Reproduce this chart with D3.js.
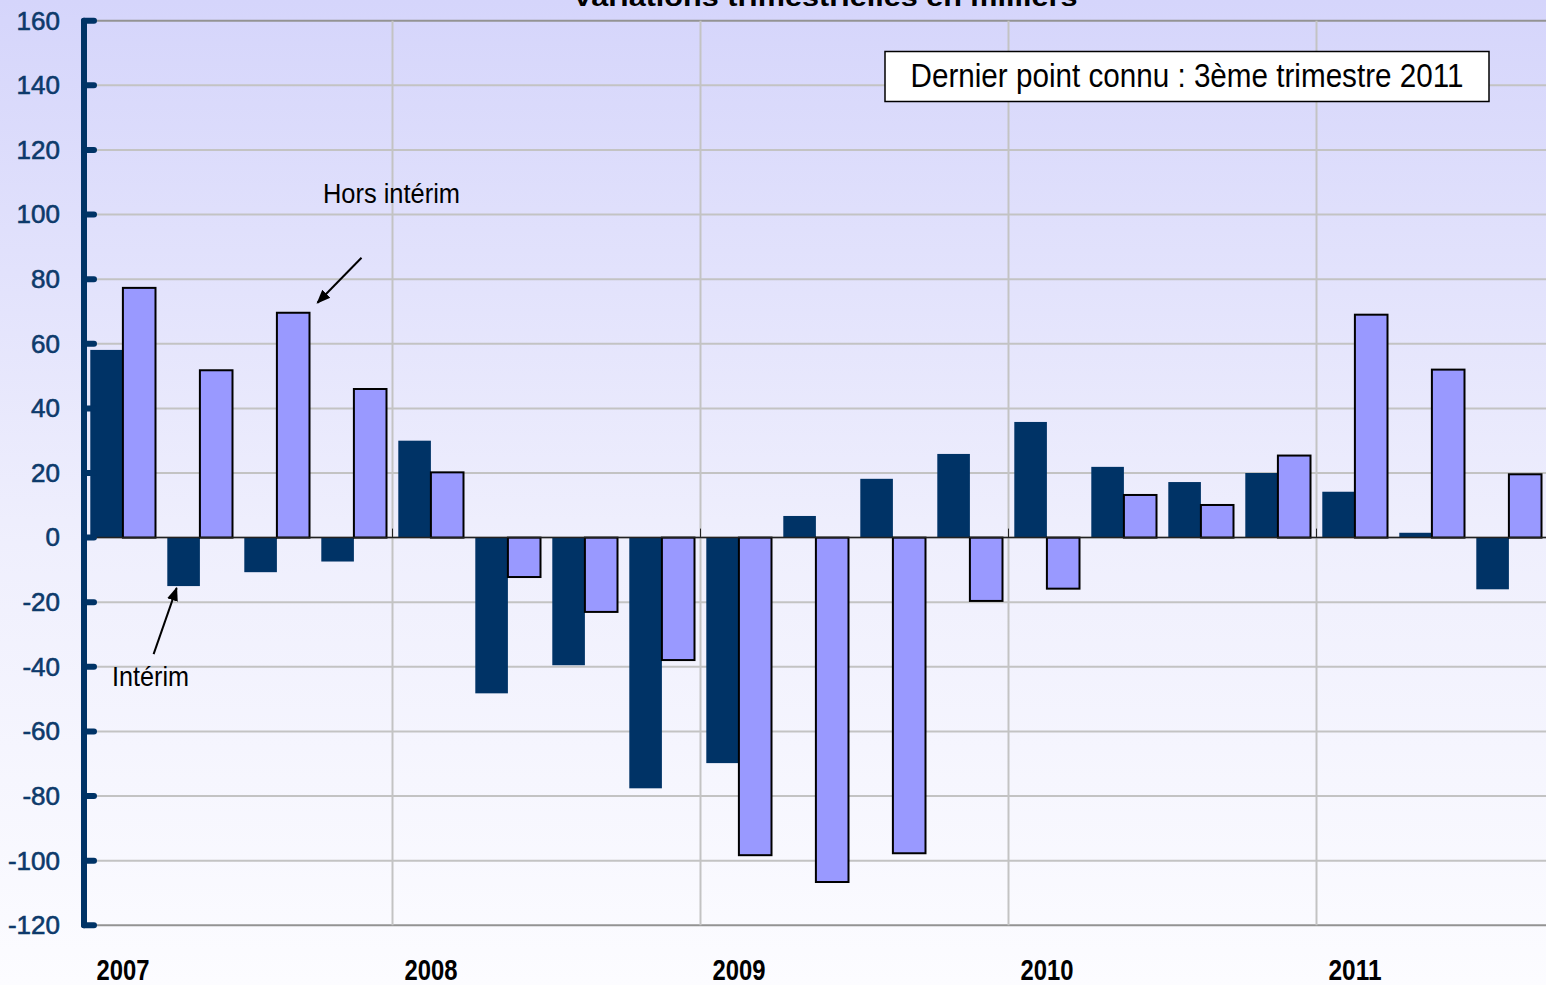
<!DOCTYPE html>
<html>
<head>
<meta charset="utf-8">
<script src="https://cdn.jsdelivr.net/npm/d3@7"></script>
<style>
    body { margin: 0; padding: 0; overflow: hidden; }
    svg { display: block; }
</style>
</head>
<body>
<div id="chart"></div>
<script>
// quarters shown on the chart, 2007 Q1 to 2011 Q3
const quarters = ["2007T1", "2007T2", "2007T3", "2007T4",
    "2008T1", "2008T2", "2008T3", "2008T4",
    "2009T1", "2009T2", "2009T3", "2009T4",
    "2010T1", "2010T2", "2010T3", "2010T4",
    "2011T1", "2011T2", "2011T3"];

// quarterly changes, thousands
const interim = [58.1, -15.0, -10.7, -7.4, 30.0, -48.2, -39.5, -77.6,
    -69.8, 6.7, 18.2, 25.9, 35.8, 21.9, 17.2, 20.0, 14.2, 1.5, -16.0];
const horsInterim = [77.3, 51.8, 69.6, 46.0, 20.2, -12.2, -23.0, -37.9,
    -98.3, -106.6, -97.7, -19.6, -15.8, 13.2, 10.1, 25.4, 69.0, 52.0, 19.6];

const years = ["2007", "2008", "2009", "2010", "2011"];
const yTicks = [-120, -100, -80, -60, -40, -20, 0, 20, 40, 60, 80, 100, 120, 140, 160];

const series = ["interim", "horsInterim"];

document.addEventListener("DOMContentLoaded", () => {
    drawChart();
});

let drawChart = () => {
    var width = 1546
    var height = 985
    var arial = "'Liberation Sans', Arial, sans-serif"

    var svg = d3.select("#chart")
        .append("svg")
        .attr("width", width)
        .attr("height", height)

    // background gradient
    var defs = svg.append("defs")
    var grad = defs.append("linearGradient")
        .attr("id", "bg")
        .attr("x1", 0).attr("y1", 0).attr("x2", 0).attr("y2", 1)
    grad.append("stop").attr("offset", "0%").attr("stop-color", "#d5d5fb")
    grad.append("stop").attr("offset", "55%").attr("stop-color", "#efeffd")
    grad.append("stop").attr("offset", "100%").attr("stop-color", "#fcfcff")

    svg.append("rect")
        .attr("width", width)
        .attr("height", height)
        .attr("fill", "url(#bg)")

    var rows = quarters.map((q, i) => ({ q: q, interim: interim[i], horsInterim: horsInterim[i] }))

    var x0 = d3.scaleBand()
        .domain(quarters)
        .range([84.5, 1547.5])

    var x1 = d3.scaleBand()
        .domain(series)
        .range([5.8, 71])

    var y = d3.scaleLinear()
        .domain([-120, 160])
        .range([925.3, 20.7])

    var color = d3.scaleOrdinal()
        .domain(series)
        .range(["#003366", "#9999ff"])

    // horizontal grid
    svg.append("g")
        .selectAll("line")
        .data(yTicks)
        .enter()
        .append("line")
        .attr("x1", 86)
        .attr("x2", width)
        .attr("y1", d => y(d))
        .attr("y2", d => y(d))
        .attr("stroke", d => (d == 160 || d == -120) ? "#939393" : "#c3c3c3")
        .attr("stroke-width", 2)

    // vertical grid at each year
    svg.append("g")
        .selectAll("line")
        .data(years.slice(1))
        .enter()
        .append("line")
        .attr("x1", d => x0(d + "T1"))
        .attr("x2", d => x0(d + "T1"))
        .attr("y1", y(160))
        .attr("y2", y(-120))
        .attr("stroke", "#c3c3c3")
        .attr("stroke-width", 2)

    // title (cut by the top of the picture)
    svg.append("text")
        .attr("x", 825)
        .attr("y", 6)
        .attr("text-anchor", "middle")
        .attr("textLength", 505)
        .attr("lengthAdjust", "spacingAndGlyphs")
        .style("font-family", arial)
        .style("font-weight", "bold")
        .style("font-size", "26px")
        .attr("fill", "#000")
        .text("Variations trimestrielles en milliers")

    // bars
    var groups = svg.append("g")
        .selectAll("g")
        .data(rows)
        .enter()
        .append("g")
        .attr("transform", d => "translate(" + x0(d.q) + ",0)")

    groups.selectAll("rect")
        .data(d => series.map(k => ({ key: k, value: d[k] })))
        .enter()
        .append("rect")
        .attr("x", d => x1(d.key))
        .attr("width", x1.bandwidth())
        .attr("y", d => y(Math.max(0, d.value)))
        .attr("height", d => Math.abs(y(d.value) - y(0)))
        .attr("fill", d => color(d.key))
        .attr("stroke", d => d.key == "horsInterim" ? "#000" : "none")
        .attr("stroke-width", 2)

    // zero line with year ticks
    svg.append("line")
        .attr("x1", 84)
        .attr("x2", width)
        .attr("y1", y(0))
        .attr("y2", y(0))
        .attr("stroke", "#222")
        .attr("stroke-width", 1.5)

    svg.append("g")
        .selectAll("line")
        .data(years)
        .enter()
        .append("line")
        .attr("x1", d => x0(d + "T1"))
        .attr("x2", d => x0(d + "T1"))
        .attr("y1", y(0) - 9)
        .attr("y2", y(0))
        .attr("stroke", "#222")
        .attr("stroke-width", 1)

    // y axis: labels
    var yLabels = svg.append("g")
        .attr("transform", "translate(84,0)")
        .call(d3.axisLeft(y).tickValues(yTicks).tickSize(0).tickPadding(24).tickFormat(d => String(d)))
    yLabels.select(".domain").remove()
    yLabels.selectAll("text")
        .style("font-family", arial)
        .style("font-size", "26px")
        .attr("fill", "#0d3a6b")
        .attr("stroke", "#0d3a6b")
        .attr("stroke-width", 0.6)

    // y axis: thick line and ticks
    svg.append("line")
        .attr("x1", 84)
        .attr("x2", 84)
        .attr("y1", y(160))
        .attr("y2", y(-120))
        .attr("stroke", "#003366")
        .attr("stroke-width", 6)
        .attr("stroke-linecap", "round")

    svg.append("g")
        .selectAll("line")
        .data(yTicks)
        .enter()
        .append("line")
        .attr("x1", 84)
        .attr("x2", 94)
        .attr("y1", d => y(d))
        .attr("y2", d => y(d))
        .attr("stroke", "#003366")
        .attr("stroke-width", 6)
        .attr("stroke-linecap", "round")

    // year labels under the first quarter of each year
    svg.append("g")
        .selectAll("text")
        .data(years)
        .enter()
        .append("text")
        .attr("x", d => x0(d + "T1") + x0.bandwidth() / 2)
        .attr("y", 980)
        .attr("text-anchor", "middle")
        .attr("textLength", 53)
        .attr("lengthAdjust", "spacingAndGlyphs")
        .style("font-family", arial)
        .style("font-size", "30px")
        .style("font-weight", "bold")
        .attr("fill", "#000")
        .text(d => d)

    // note box
    svg.append("rect")
        .attr("x", 885)
        .attr("y", 51.5)
        .attr("width", 604)
        .attr("height", 50)
        .attr("fill", "#fff")
        .attr("stroke", "#000")
        .attr("stroke-width", 1.5)

    svg.append("text")
        .attr("x", 1187)
        .attr("y", 87)
        .attr("text-anchor", "middle")
        .attr("textLength", 553)
        .attr("lengthAdjust", "spacingAndGlyphs")
        .style("font-family", arial)
        .style("font-size", "33px")
        .attr("fill", "#000")
        .text("Dernier point connu : 3ème trimestre 2011")

    // arrows
    defs.append("marker")
        .attr("id", "arrow")
        .attr("viewBox", "0 0 10 10")
        .attr("refX", 9)
        .attr("refY", 5)
        .attr("markerWidth", 7)
        .attr("markerHeight", 7)
        .attr("orient", "auto")
        .append("path")
        .attr("d", "M0,1 L10,5 L0,9 Z")
        .attr("fill", "#000")

    // Hors intérim -> 2007 Q3 bar
    var hx = x0("2007T3") + x1("horsInterim") + x1.bandwidth()
    var hy = y(horsInterim[2])
    svg.append("line")
        .attr("x1", hx + 52)
        .attr("y1", hy - 55)
        .attr("x2", hx + 8)
        .attr("y2", hy - 10)
        .attr("stroke", "#000")
        .attr("stroke-width", 2)
        .attr("marker-end", "url(#arrow)")

    svg.append("text")
        .attr("x", 323)
        .attr("y", 203)
        .attr("textLength", 137)
        .attr("lengthAdjust", "spacingAndGlyphs")
        .style("font-family", arial)
        .style("font-size", "27px")
        .attr("fill", "#000")
        .text("Hors intérim")

    // Intérim -> 2007 Q2 bar
    var ix = x0("2007T2") + x1("interim") + x1.bandwidth() / 2
    var iy = y(interim[1])
    svg.append("line")
        .attr("x1", ix - 30)
        .attr("y1", iy + 68)
        .attr("x2", ix - 7)
        .attr("y2", iy + 2)
        .attr("stroke", "#000")
        .attr("stroke-width", 2)
        .attr("marker-end", "url(#arrow)")

    svg.append("text")
        .attr("x", 112)
        .attr("y", 686)
        .attr("textLength", 77)
        .attr("lengthAdjust", "spacingAndGlyphs")
        .style("font-family", arial)
        .style("font-size", "28px")
        .attr("fill", "#000")
        .text("Intérim")
}
</script>
</body>
</html>
